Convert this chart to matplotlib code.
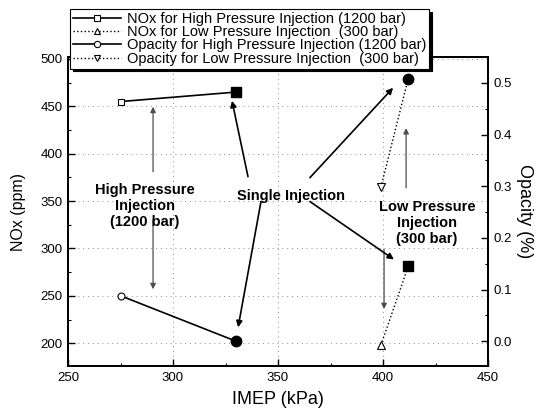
import matplotlib
matplotlib.use('Agg')
import matplotlib.pyplot as plt
from matplotlib.ticker import MultipleLocator
from matplotlib.lines import Line2D

plt.rcParams['font.family'] = ['Liberation Sans', 'DejaVu Sans']

# IMEP (kPa) for each injection pressure: first point is the open marker, second the single injection
imep_high = [275, 330]
imep_low = [399, 412]
nox_high = [455, 465]
nox_low = [198, 281]
opacity_high = [0.088, 0.0]
opacity_low = [0.298, 0.508]

legend_labels = ['NOx for High Pressure Injection (1200 bar)',
                 'NOx for Low Pressure Injection  (300 bar)',
                 'Opacity for High Pressure Injection (1200 bar)',
                 'Opacity for Low Pressure Injection  (300 bar)']

fig = plt.figure(figsize=(5.45, 4.11), dpi=100)
ax = fig.add_axes([68 / 545, 1 - 366 / 411, 420 / 545, 309 / 411])
ax2 = ax.twinx()

# NOx on the left axis
ax.plot(imep_high, nox_high, '-', color='black', lw=1.2, zorder=3)
ax.plot(imep_high[0], nox_high[0], 's', ms=4.5, mfc='white', mec='black', mew=0.8, zorder=4)
ax.plot(imep_high[1], nox_high[1], 's', ms=7, color='black', zorder=4)
ax.plot(imep_low, nox_low, ':', color='black', lw=1.0, zorder=3)
ax.plot(imep_low[0], nox_low[0], '^', ms=5.5, mfc='white', mec='black', mew=0.8, zorder=4)
ax.plot(imep_low[1], nox_low[1], 's', ms=7, color='black', zorder=4)

# Opacity on the right axis
ax2.plot(imep_high, opacity_high, '-', color='black', lw=1.2, zorder=3)
ax2.plot(imep_high[0], opacity_high[0], 'o', ms=5, mfc='white', mec='black', mew=0.8, zorder=4)
ax2.plot(imep_high[1], opacity_high[1], 'o', ms=7.5, color='black', zorder=4)
ax2.plot(imep_low, opacity_low, ':', color='black', lw=1.0, zorder=3)
ax2.plot(imep_low[0], opacity_low[0], 'v', ms=5.5, mfc='white', mec='black', mew=0.8, zorder=4)
ax2.plot(imep_low[1], opacity_low[1], 'o', ms=7.5, color='black', zorder=4)

ax.set_xlim(250, 450)
ax.set_ylim(176, 502)
ax2.set_ylim(-0.048, 0.55)

ax.xaxis.set_major_locator(MultipleLocator(50))
ax.xaxis.set_minor_locator(MultipleLocator(25))
ax.yaxis.set_major_locator(MultipleLocator(50))
ax.yaxis.set_minor_locator(MultipleLocator(25))
ax2.yaxis.set_major_locator(MultipleLocator(0.1))
ax2.yaxis.set_minor_locator(MultipleLocator(0.05))
ax2.yaxis.set_major_formatter(matplotlib.ticker.FormatStrFormatter('%.1f'))

ax.tick_params(which='both', direction='in', top=False, right=False, labelsize=9.5, pad=4)
ax.tick_params(which='major', length=5, width=1.0)
ax.tick_params(which='minor', length=2.5, width=0.8)
ax2.tick_params(which='both', direction='in', labelsize=9.5, pad=4)
ax2.tick_params(which='major', length=5, width=1.0)
ax2.tick_params(which='minor', length=2.5, width=0.8)

for a in (ax, ax2):
    for s in a.spines.values():
        s.set_linewidth(1.3)

ax.grid(True, which='major', linestyle=(0, (1, 4)), color='0.55', lw=0.7)

ax.set_xlabel('IMEP (kPa)', fontsize=13, labelpad=5)
ax.set_ylabel('NOx (ppm)', fontsize=11.5, labelpad=10)
ax2.set_ylabel('Opacity (%)', fontsize=13, rotation=270, labelpad=15)

bold = dict(fontsize=10.5, fontweight='bold', ha='center', va='center', linespacing=1.2, zorder=5)
ax.text(286.7, 345, 'High Pressure\nInjection\n(1200 bar)', **bold)
ax.text(356.2, 355.8, 'Single Injection', **bold)
ax.text(421, 327, 'Low Pressure\nInjection\n(300 bar)', **bold)

# thin guide arrows for the injection pressure groups
thin = dict(arrowstyle='-|>', color='0.3', lw=0.9, mutation_scale=8, shrinkA=0, shrinkB=0)
ax.annotate('', xy=(290.5, 449.5), xytext=(290.5, 381), arrowprops=thin)
ax.annotate('', xy=(290.5, 257), xytext=(290.5, 330.5), arrowprops=thin)
ax.annotate('', xy=(411, 427), xytext=(411, 364), arrowprops=thin)
ax.annotate('', xy=(400.5, 236), xytext=(400.5, 299), arrowprops=thin)

# arrows from the single injection label to the filled markers
bold_arrow = dict(arrowstyle='-|>', color='black', lw=1.2, mutation_scale=9, shrinkA=0, shrinkB=0)
ax.annotate('', xy=(328.1, 455.8), xytext=(335.7, 375.8), arrowprops=bold_arrow)
ax.annotate('', xy=(331, 216.8), xytext=(341.9, 349.5), arrowprops=bold_arrow)
ax.annotate('', xy=(404.8, 469.5), xytext=(365.2, 374.7), arrowprops=bold_arrow)
ax.annotate('', xy=(405.2, 288.4), xytext=(365.2, 349.5), arrowprops=bold_arrow)

handles = [
    Line2D([], [], ls='-', color='black', lw=1.2, marker='s', ms=4, mfc='white', mec='black', mew=0.8),
    Line2D([], [], ls=':', color='black', lw=1.0, marker='^', ms=5, mfc='white', mec='black', mew=0.8),
    Line2D([], [], ls='-', color='black', lw=1.2, marker='o', ms=4.5, mfc='white', mec='black', mew=0.8),
    Line2D([], [], ls=':', color='black', lw=1.0, marker='v', ms=5, mfc='white', mec='black', mew=0.8),
]
leg = fig.legend(handles, legend_labels, loc='upper left',
                 bbox_to_anchor=(70 / 545, 1 - 9 / 411), borderaxespad=0,
                 fontsize=10.5, handlelength=3.3, handletextpad=0.4, labelspacing=-0.05,
                 borderpad=0.2, fancybox=False, framealpha=1, edgecolor='black',
                 shadow={'color': 'black', 'alpha': 1})
leg.get_frame().set_linewidth(0.8)
leg.set_zorder(10)

fig.savefig('out.png', dpi=100)
